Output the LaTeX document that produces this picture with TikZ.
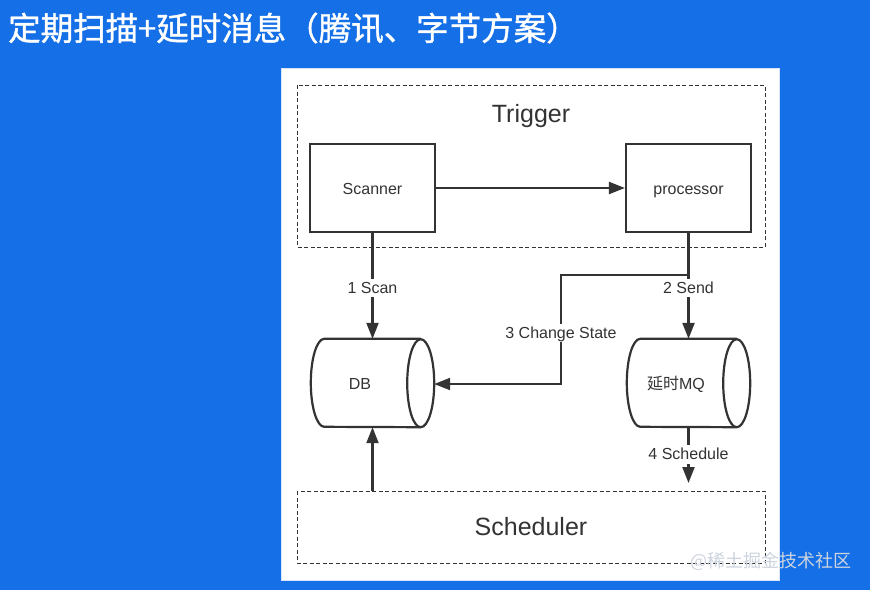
\documentclass[tikz,border=0pt]{standalone}
\usepackage{fontspec}
\setmainfont{Liberation Sans}
\newfontfamily\cjk{Noto Sans CJK SC}
\newfontfamily\cjktitle{Noto Sans CJK SC}[FakeBold=1.2]
\usetikzlibrary{arrows.meta,calc}
\definecolor{bgblue}{RGB}{21,112,232}
\definecolor{ink}{RGB}{51,51,51}
\definecolor{wmark}{RGB}{205,212,222}
\begin{document}
\begin{tikzpicture}[x=1pt,y=-1pt,
  box/.style={draw=ink, line width=2.2pt, minimum width=125pt, minimum height=88pt, inner sep=0pt, text=ink, font=\fontsize{16}{19}\selectfont, text height=12pt, text depth=0pt},
  cylnode/.style={minimum width=123pt, minimum height=88pt, inner sep=0pt},
  cyl/.style={draw=ink, line width=2.2pt},
  grp/.style={draw=ink, line width=0.9pt, dash pattern=on 4pt off 2.5pt},
  grptext/.style={text=ink, font=\fontsize{25}{28}\selectfont, inner sep=0pt, anchor=base},
  txt/.style={text=ink, font=\fontsize{16}{19}\selectfont, inner sep=0pt},
  lbl/.style={text=ink, fill=white, font=\fontsize{16}{19}\selectfont, inner sep=3pt, text height=11.5pt, text depth=1pt},
  tip/.style={-{Triangle[length=16pt,width=12pt]}},
  arr/.style={draw=ink, line width=2.2pt, tip},
  ln/.style={draw=ink, line width=2.2pt}
]
\useasboundingbox (0,0) rectangle (870,590);
\fill[bgblue] (0,0) rectangle (870,590);
% title
\node[anchor=west, text=white, font=\cjktitle\fontsize{32.5}{36}\selectfont, inner sep=0pt] (title) at (8,28) {定期扫描+延时消息（腾讯、字节方案）};
% panel
\filldraw[fill=white, draw={rgb,255:red,215;green,228;blue,250}, line width=1pt] (281,68) rectangle (779,580);
% group boxes
\draw[grp] (297,85) rectangle (765,247);
\node[grptext] (trig) at (531,122) {Trigger};
\draw[grp] (297,491) rectangle (765,563);
\node[grptext] (schtext) at (531,535) {Scheduler};
% boxes
\node[box] (scanner) at (372.5,188) {Scanner};
\node[box] (proc) at (688.5,188) {processor};
% cylinders
\node[cylnode] (db) at (372.5,383) {};
\node[cylnode] (mq) at (688.5,383) {};
\foreach \c in {db,mq}{
  \draw[cyl] ($(\c.north east)+(-13.5,0)$) -- ($(\c.north west)+(13.5,0)$)
    arc[start angle=90,end angle=270,x radius=13.5pt,y radius=44pt]
    -- ($(\c.south east)+(-13.5,0)$)
    arc[start angle=-90,end angle=90,x radius=13.5pt,y radius=44pt]
    arc[start angle=90,end angle=270,x radius=13.5pt,y radius=44pt];
}
\node[txt] (dbt) at (360,384) {DB};
\node[txt] (mqt) at (676,384) {{\cjk 延时}MQ};
% connectors
\draw[arr] (scanner.east) -- (proc.west);
\draw[arr] (scanner.south) -- node[lbl, pos=0.52] (l1) {1 Scan} (db.north);
\draw[arr] (proc.south) -- node[lbl, pos=0.52] (l2) {2 Send} (mq.north);
\coordinate (cs0) at (688.5,275);
\coordinate (cs1) at (561,275);
\coordinate (cs2) at (561,384);
\draw[arr] (cs0) -- (cs1) -- node[lbl, pos=0.53] (l3) {3 Change State} (cs2) -- (cs2 -| db.east);
\coordinate (schend) at (688.5,483);
\draw[arr] (mq.south) -- node[lbl, pos=0.49] (l4) {4 Schedule} (schend);
\coordinate (schtop) at (372.5,491);
\draw[arr] (schtop) -- (db.south);
% watermark
\node[text=wmark, font=\cjk\fontsize{18}{20}\selectfont, inner sep=0pt] (wm) at (771,561) {@稀土掘金技术社区};
\end{tikzpicture}
\end{document}
